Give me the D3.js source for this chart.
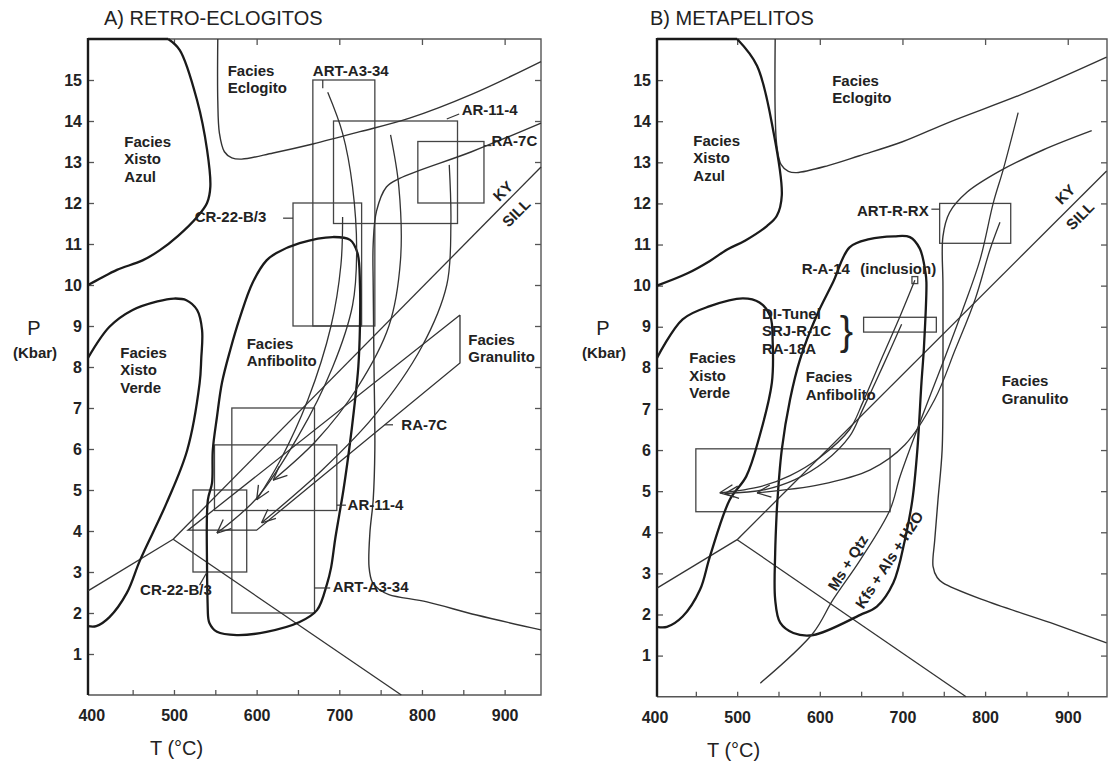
<!DOCTYPE html>
<html>
<head>
<meta charset="utf-8">
<style>
  body { margin: 0; background: #fff; }
  svg text { font-family: "Liberation Sans", Arial, sans-serif; fill: #222; }
</style>
</head>
<body>
<script src="https://d3js.org/d3.v7.min.js"></script>
<script>
// ---------- panel A : retro-eclogitos  (T in C, P in kbar) ----------
var azulA  = [[493,16],[507,15.73],[528,14.5],[540,13.3],[544,12.4],[540,12.0],[528,11.66],[505,11.2],[483,10.85],[462,10.6],[431,10.37],[410,10.15],[396,10.0]];
var verdeA = [[396,8.22],[422,8.98],[450,9.39],[480,9.6],[500,9.67],[515,9.63],[528,9.39],[534,8.9],[533,8.2],[531,7.6],[516,5.97],[491,4.68],[459,3.29],[443,2.49],[422,1.9],[406,1.68],[396,1.68]];
var anfA   = [[541,2.0],[540,3.1],[541,4.76],[546,5.17],[547,5.98],[552,6.78],[558,7.61],[568,8.41],[580,9.22],[595,10.05],[612,10.6],[624,10.78],[652,11.02],[692,11.17],[713,11.1],[722,10.78],[725,10],[725,9],[723,8],[718,7],[712,6],[705,5],[700,4.4],[695,3.8],[690,3.1],[685,2.7],[673,2.07],[652,1.78],[612,1.54],[576,1.46],[552,1.54],[543,1.75],[541,2.0]];
var eclogA = [[553,16],[553,14.5],[555,13.7],[561,13.25],[570,13.1],[582,13.07],[620,13.22],[668,13.44],[725,13.74],[785,14.07],[860,14.65],[944,15.45]];
var granA  = [[944,13.95],[860,13.25],[773,12.6],[757,12.39],[745,11.8],[741,11],[741,10],[742,8],[743,6],[741,4.76],[737,3.95],[736,3.12],[740,2.75],[748,2.58],[760,2.45],[806,2.27],[866,1.95],[944,1.59]];
var tripleA = [499,3.8];
var kyEndsA = [[396,2.54],[944,12.88],[775,0]];          // Ky-And, Ky-Sill, And-Sill ends
var boxesA = [[668,743,9,15],[644,727,9,12],[693,843,11.5,14],[795,875,12,13.5],
              [523,588,3,5],[570,670,2,7],[549,697,4.5,6.1]];
var bandA  = [[846,9.27],[517,4.02],[600,4.02],[846,8.1],[846,9.27]];
var pathsA = [
  [[686,14.7],[704,13.7],[716,12.4],[721,10.8],[716,9.5],[692,8],[650,6.3],[600,4.8],[552,3.95]],
  [[704,11.66],[702,10.5],[690,9],[662,7.2],[628,5.7],[600,4.76]],
  [[762,13.66],[772,12.4],[774,10.6],[760,9],[722,7.5],[672,6.2],[620,5.24]],
  [[833,12.93],[835,11.5],[830,10],[800,8.5],[742,6.8],[680,5.5],[606,4.2]]
];
var labelsA = [
  [["Facies","Eclogito"],565,15.1],[["Facies","Xisto","Azul"],440,13.37],
  [["Facies","Xisto","Verde"],435,8.23],[["Facies","Anfibolito"],588,8.44],
  [["Facies","Granulito"],856,8.54],
  [["ART-A3-34"],668,15.1],[["AR-11-4"],848,14.15],[["RA-7C"],884,13.39],
  [["CR-22-B/3"],525,11.54],[["RA-7C"],775,6.46],[["AR-11-4"],710,4.51],
  [["CR-22-B/3"],459,2.44],[["ART-A3-34"],692,2.51]
];
var leadersA = [[[680,15],[680,14.8]],[[830,14.05],[845,14.17]],[[875,13.4],[884,13.4]],
  [[632,11.63],[644,11.63]],[[755,6.59],[765,6.59]],[[697,4.63],[708,4.63]],
  [[531,2.68],[540,3.0]],[[670,2.61],[689,2.61]]];
var kyLabA = [[898,12.29],[914,11.76]];

// ---------- panel B : metapelitos ----------
var azulB  = [[500,16],[524,15.35],[544,13.73],[554,12.2],[548,11.7],[536,11.45],[510,11.1],[488,10.88],[467,10.6],[440,10.3],[403,10.0]];
var verdeB = [[403,8.24],[434,9.18],[467,9.5],[507,9.69],[527,9.59],[540,9.26],[543,8.62],[542,7.64],[527,6.33],[511,5.36],[491,4.79],[467,3.41],[455,2.6],[434,1.95],[415,1.7],[403,1.7]];
var anfB   = [[548,4.55],[554,6.01],[564,7.23],[576,8.2],[596,9.26],[616,10.08],[636,10.93],[660,11.13],[690,11.2],[709,11.18],[721,10.9],[728,10.3],[729,10.08],[726,8.5],[723,7.64],[718,6],[712,4.79],[703,3.82],[689,2.77],[669,2.19],[649,1.99],[592,1.5],[568,1.55],[552,1.8],[546,2.36],[546,3.5],[548,4.55]];
var eclogB = [[546,16],[546,14.2],[548,13.4],[553,12.95],[562,12.78],[572,12.75],[610,12.92],[648,13.16],[700,13.5],[757,13.98],[850,14.7],[947,15.56]];
var granB  = [[929,13.77],[870,13.3],[818,12.79],[778,12.27],[757,11.78],[749,11.2],[749,10],[749,8],[748,6],[743,4.79],[739,3.8],[737,3.17],[742,2.9],[749,2.77],[797,2.36],[879,1.8],[947,1.31]];
var tripleB = [500,3.82];
var kyEndsB = [[403,2.64],[947,12.79],[777,0]];
var boxesB = [[745,831,11.03,12],[653,741,8.87,9.23],[711.5,718.5,10.05,10.22],[450,685,4.5,6.03]];
var pathsB = [
  [[715,10.13],[697,9.25],[676,8.28],[652,7.16],[636,6.5],[600,5.82],[564,5.38],[528,5.11],[479,4.96]],
  [[699,9.06],[676,8.03],[652,6.99],[636,6.33],[606,5.72],[570,5.28],[534,5.04],[485,4.94]],
  [[818,11.54],[806,10.88],[788,9.67],[764,8.45],[739,7.23],[703,6.13],[661,5.52],[600,5.16],[524,4.96]]
];
var msQtzB = [[528,0.33],[592,1.55],[616,2.36],[649,3.33],[685,4.55],[697,5.35],[721,6.67],[749,8.13],[773,9.42],[794,10.64],[810,12.02],[822,12.83],[840,14.21]];
var labelsB = [
  [["Facies","Xisto","Azul"],447,13.4],[["Facies","Eclogito"],615,14.86],
  [["Facies","Xisto","Verde"],442,8.11],[["Facies","Anfibolito"],583,7.65],
  [["Facies","Granulito"],820,7.55],[["ART-R-RX"],645,11.7],
  [["R-A-14"],578,10.28],[["(inclusion)"],649,10.28],
  [["DI-Tunel","SRJ-R-1C","RA-18A"],530,9.2]
];
var leadersB = [[[735,11.86],[745,11.86]]];
var kyLabB = [[897,12.22],[915,11.7]];
var braceB = [624,8.89];
var reactB = [["Ms + Qtz",634,3.26,-58],["Kfs + Als + H2O",684,3.33,-57]];

var xTicks = [400,500,600,700,800,900];
var xMinor = [450,500,550,600,650,700,750,800,850,900];
var yTicks = [1,2,3,4,5,6,7,8,9,10,11,12,13,14,15];

// ---------- drawing ----------
var svg = d3.select("body").append("svg").attr("width",1108).attr("height",764);

function styleLabels(a) {
  a.select(".domain").remove();
  a.selectAll("text").attr("font-size",16).attr("font-weight","bold")
   .attr("font-family","Liberation Sans, Arial, sans-serif").attr("fill","#222");
}

function drawPanel(o) {
  var x = o.x, y = o.y;
  var g = svg.append("g");
  var x0 = x.range()[0], x1 = x.range()[1], y0 = y.range()[0], y1 = y.range()[1];
  var line = d3.line().x(function(d){return x(d[0]);}).y(function(d){return y(d[1]);});
  var smooth = d3.line().curve(d3.curveCatmullRom.alpha(0.5))
      .x(function(d){return x(d[0]);}).y(function(d){return y(d[1]);});

  // inward ticks on all four sides
  g.append("g").attr("transform","translate(0,"+y0+")")
    .call(d3.axisBottom(x).tickValues(xMinor).tickSize(-5).tickFormat(""));
  g.append("g").attr("transform","translate(0,"+y1+")")
    .call(d3.axisTop(x).tickValues(xTicks.slice(1)).tickSize(-6).tickFormat(""));
  g.append("g").attr("transform","translate("+x0+",0)")
    .call(d3.axisLeft(y).tickValues(yTicks).tickSize(-6).tickFormat(""));
  g.append("g").attr("transform","translate("+x1+",0)")
    .call(d3.axisRight(y).tickValues(yTicks).tickSize(-6).tickFormat(""));
  g.selectAll(".domain").remove();
  g.selectAll(".tick line").attr("stroke","#555").attr("stroke-width",1.3);
  // tick labels
  g.append("g").attr("transform","translate(0,"+(y0+15)+")")
    .call(d3.axisBottom(x).tickValues(xTicks).tickSize(0).tickPadding(0))
    .call(styleLabels);
  g.append("g").attr("transform","translate("+(x0-5)+",0)")
    .call(d3.axisLeft(y).tickValues(yTicks).tickSize(0).tickPadding(1))
    .call(styleLabels);

  // frame
  g.append("path").attr("d","M"+x0+","+y1+"H"+x1+"V"+y0+"H"+x0)
    .attr("fill","none").attr("stroke","#555").attr("stroke-width",1.4);
  g.append("line").attr("x1",x0).attr("x2",x0).attr("y1",y1-1).attr("y2",y0)
    .attr("stroke","#1a1a1a").attr("stroke-width",2.4);
  // top edge is also the blueschist field border up to where its curve starts
  g.append("line").attr("x1",x0).attr("x2",x(o.azul[0][0])).attr("y1",y1).attr("y2",y1)
    .attr("stroke","#1a1a1a").attr("stroke-width",2.4);

  // boxes
  o.boxes.forEach(function(b){
    g.append("rect").attr("x",x(b[0])).attr("y",y(b[3]))
      .attr("width",x(b[1])-x(b[0])).attr("height",y(b[2])-y(b[3]))
      .attr("fill","none").attr("stroke","#444").attr("stroke-width",1.3);
  });
  if (o.band) g.append("path").attr("d",line(o.band)).attr("fill","none")
      .attr("stroke","#333").attr("stroke-width",1.3);

  // Ky / And / Sill
  o.kyEnds.forEach(function(e){
    g.append("path").attr("d",line([o.triple,e])).attr("fill","none")
      .attr("stroke","#333").attr("stroke-width",1.3);
  });
  // thin facies boundaries
  [o.eclog,o.gran].forEach(function(c){
    g.append("path").attr("d",smooth(c)).attr("fill","none")
      .attr("stroke","#333").attr("stroke-width",1.4);
  });
  // thick facies boundaries
  [o.azul,o.verde,o.anf].forEach(function(c){
    g.append("path").attr("d",smooth(c)).attr("fill","none")
      .attr("stroke","#1a1a1a").attr("stroke-width",2.3);
  });
  if (o.msQtz) g.append("path").attr("d",smooth(o.msQtz)).attr("fill","none")
      .attr("stroke","#333").attr("stroke-width",1.3);

  // P-T paths with open arrow heads
  o.paths.forEach(function(p){
    g.append("path").attr("d",smooth(p)).attr("fill","none")
      .attr("stroke","#333").attr("stroke-width",1.3);
    var a = p[p.length-1], b = p[p.length-2];
    var ax = x(a[0]), ay = y(a[1]);
    var ang = Math.atan2(y(b[1])-ay, x(b[0])-ax);
    [-0.42,0.42].forEach(function(s){
      g.append("line").attr("x1",ax).attr("y1",ay)
        .attr("x2",ax+15*Math.cos(ang+s)).attr("y2",ay+15*Math.sin(ang+s))
        .attr("stroke","#333").attr("stroke-width",1.3);
    });
  });

  o.leaders.forEach(function(l){
    g.append("path").attr("d",line(l)).attr("stroke","#333").attr("stroke-width",1.2);
  });

  // text labels
  o.labels.forEach(function(l){
    var t = g.append("text").attr("x",x(l[1])).attr("y",y(l[2]))
      .attr("font-size",15).attr("font-weight","bold");
    l[0].forEach(function(s,i){
      t.append("tspan").attr("x",x(l[1])).attr("dy",i?17.5:0).text(s);
    });
  });
  ["KY","SILL"].forEach(function(s,i){
    var p = o.kyLab[i];
    g.append("text").attr("transform","translate("+x(p[0])+","+y(p[1])+") rotate(-45)")
      .attr("text-anchor","middle").attr("dy","0.35em")
      .attr("font-size",15).attr("font-weight","bold").text(s);
  });
  if (o.react) o.react.forEach(function(r){
    g.append("text").attr("transform","translate("+x(r[1])+","+y(r[2])+") rotate("+r[3]+")")
      .attr("text-anchor","middle").attr("dy","0.35em")
      .attr("font-size",15).attr("font-weight","bold").text(r[0]);
  });
  if (o.brace) g.append("text").attr("x",x(o.brace[0])).attr("y",y(o.brace[1]))
      .attr("dy","0.35em").attr("font-size",40).text("}");

  // titles
  g.append("text").attr("x",o.titleX).attr("y",25).attr("font-size",20).text(o.title);
  g.append("text").attr("x",x0-54).attr("y",335).attr("text-anchor","middle")
    .attr("font-size",20).text("P");
  g.append("text").attr("x",x0-53).attr("y",358).attr("text-anchor","middle")
    .attr("font-size",15).attr("font-weight","bold").text("(Kbar)");
  g.append("text").attr("x",x0+o.tX).attr("y",y0+60).attr("font-size",20).text("T (\u00B0C)");
}

drawPanel({
  x: d3.scaleLinear().domain([396,944]).range([88,541]),
  y: d3.scaleLinear().domain([0,16]).range([695,39]),
  azul: azulA, verde: verdeA, anf: anfA, eclog: eclogA, gran: granA,
  triple: tripleA, kyEnds: kyEndsA, boxes: boxesA, band: bandA, paths: pathsA,
  labels: labelsA, leaders: leadersA, kyLab: kyLabA,
  title: "A) RETRO-ECLOGITOS", titleX: 104, tX: 62
});
drawPanel({
  x: d3.scaleLinear().domain([403,947.5]).range([657,1107]),
  y: d3.scaleLinear().domain([0,16]).range([696.7,39]),
  azul: azulB, verde: verdeB, anf: anfB, eclog: eclogB, gran: granB,
  triple: tripleB, kyEnds: kyEndsB, boxes: boxesB, paths: pathsB, msQtz: msQtzB,
  labels: labelsB, leaders: leadersB, kyLab: kyLabB, brace: braceB, react: reactB,
  title: "B) METAPELITOS", titleX: 650, tX: 50
});
</script>
</body>
</html>
